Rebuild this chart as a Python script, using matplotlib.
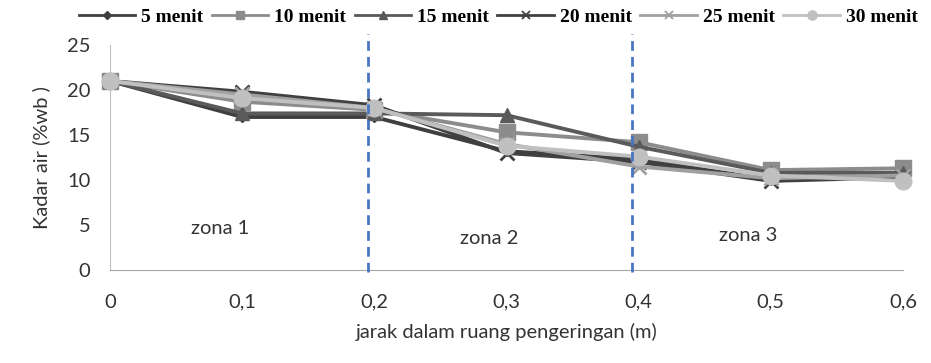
import matplotlib
matplotlib.use("Agg")
import matplotlib.pyplot as plt
from matplotlib.lines import Line2D

# distance inside the drying chamber (m)
jarak = [0, 0.1, 0.2, 0.3, 0.4, 0.5, 0.6]
x_labels = ["0", "0,1", "0,2", "0,3", "0,4", "0,5", "0,6"]

# moisture content (%wb) per drying time
menit_5 = [21.0, 17.0, 17.0, 13.2, 12.3, 10.0, 10.5]
menit_10 = [21.0, 18.7, 17.8, 15.3, 14.2, 11.1, 11.3]
menit_15 = [21.0, 17.4, 17.4, 17.2, 13.7, 10.8, 10.8]
menit_20 = [21.0, 19.8, 18.3, 13.0, 12.0, 9.9, 10.3]
menit_25 = [21.0, 19.5, 18.0, 14.0, 11.5, 10.2, 10.5]
menit_30 = [21.0, 19.1, 18.0, 13.8, 12.6, 10.5, 9.9]

series_names = ["5 menit", "10 menit", "15 menit", "20 menit", "25 menit", "30 menit"]
series_values = [menit_5, menit_10, menit_15, menit_20, menit_25, menit_30]

zone_bounds = [0.2, 0.4]
zone_labels = ["zona 1", "zona 2", "zona 3"]

colors = ["#3f3f3f", "#8c8c8c", "#5a5a5a", "#404040", "#a0a0a0", "#c0c0c0"]
markers = ["D", "s", "^", "x", "x", "o"]
msizes = [5, 11, 10, 10, 10, 12]

fig = plt.figure(figsize=(9.31, 3.63), dpi=100)
ax = fig.add_axes([110 / 931, 1 - 270 / 363, (903 - 110) / 931, (270 - 45) / 363])

for name, vals, c, m, ms in zip(series_names, series_values, colors, markers, msizes):
    ax.plot(jarak, vals, color=c, lw=2.8, marker=m, ms=ms,
            mew=2 if m == "x" else 1, mec=c, mfc=c, label=name, zorder=3,
            clip_on=False)

for xb in zone_bounds:
    ax.plot([xb - 0.005, xb - 0.005], [-0.2, 26.2], color="#4a74c4", lw=2,
            ls=(0, (3.5, 2.2)), clip_on=False, zorder=4)

ax.text(0.083, 4.6, zone_labels[0], ha="center", va="center", fontsize=14.5,
        family="Lato", color="#333333")
ax.text(0.287, 3.5, zone_labels[1], ha="center", va="center", fontsize=14.5,
        family="Lato", color="#333333")
ax.text(0.483, 3.8, zone_labels[2], ha="center", va="center", fontsize=14.5,
        family="Lato", color="#333333")

ax.set_xlim(0, 0.6)
ax.set_ylim(0, 25)
ax.set_xticks(jarak)
ax.set_xticklabels(x_labels)
ax.set_yticks([0, 5, 10, 15, 20, 25])
ax.tick_params(axis="both", length=0, labelsize=14.5, colors="#333333")
ax.tick_params(axis="x", pad=17)
ax.tick_params(axis="y", pad=14)
for lab in ax.get_xticklabels() + ax.get_yticklabels():
    lab.set_family("Lato")

ax.spines["top"].set_visible(False)
ax.spines["right"].set_visible(False)
ax.spines["left"].set_color("#bfbfbf")
ax.spines["bottom"].set_color("#a6a6a6")

ax.set_xlabel("jarak dalam ruang pengeringan (m)", fontsize=14.5, family="Lato",
              color="#333333", labelpad=9)
ax.set_ylabel("Kadar air (%wb )", fontsize=14.5, family="Lato", color="#333333",
              labelpad=12)

handles = [Line2D([0], [0], color=c, lw=2, marker=m, ms=max(4, ms * 0.55),
                  mew=1.3 if m == "x" else 1, mec=c, mfc=c)
           for c, m, ms in zip(colors, markers, msizes)]
leg = fig.legend(handles, series_names, loc="center", bbox_to_anchor=(0.535, 1 - 17 / 363),
                 ncol=6, frameon=False, handlelength=2.9, columnspacing=0.45,
                 handletextpad=0.3,
                 prop={"family": "Liberation Serif", "weight": "bold", "size": 14})

fig.savefig("out.png", dpi=100)
